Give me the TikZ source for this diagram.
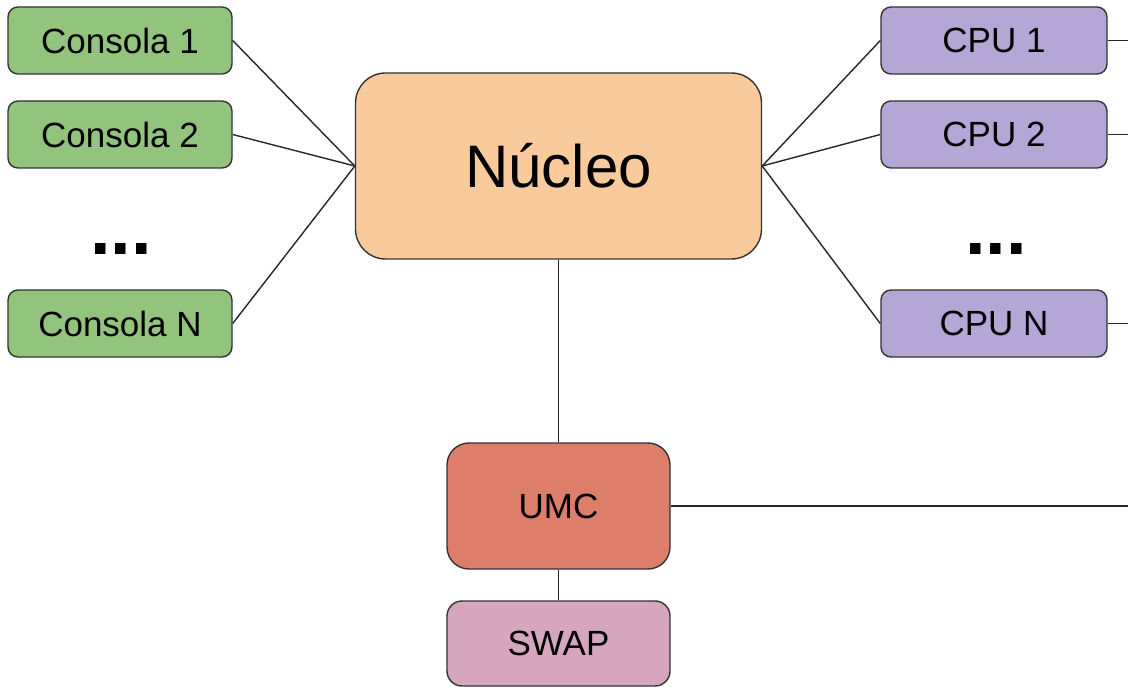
\documentclass[tikz,border=0pt]{standalone}
\usepackage{fontspec}
\setmainfont{Liberation Sans}
\begin{document}
\begin{tikzpicture}[x=1pt,y=-1pt,
  box/.style={draw=black!80, line width=1.4pt, inner sep=0pt, font=\fontsize{35}{40}\selectfont},
  green/.style={box, fill={rgb,255:red,147;green,196;blue,125}, minimum width=224pt, minimum height=67pt, rounded corners=10pt},
  cpu/.style={box, fill={rgb,255:red,180;green,167;blue,214}, minimum width=226pt, minimum height=67pt, rounded corners=10pt},
  link/.style={draw=black!85, line width=1.4pt},
  dots/.style={font=\bfseries\fontsize{74}{80}\selectfont, inner sep=0pt}]
\useasboundingbox (0,0) rectangle (1128,687);
\node[green] (c1) at (120,40.5) {Consola 1};
\node[green] (c2) at (120,134.5) {Consola 2};
\node[green] (cN) at (120,323.5) {Consola N};
\node[dots] (ld) at (121,249) {...};
\node[box, fill={rgb,255:red,249;green,203;blue,156}, minimum width=406pt, minimum height=186pt, rounded corners=30pt, font=\fontsize{60}{70}\selectfont] (nuc) at (558.5,166) {Núcleo};
\node[cpu] (p1) at (994,40.5) {CPU 1};
\node[cpu] (p2) at (994,134.5) {CPU 2};
\node[cpu] (pN) at (994,323.5) {CPU N};
\node[dots] (rd) at (996,249) {...};
\node[box, fill={rgb,255:red,221;green,126;blue,107}, minimum width=223pt, minimum height=126pt, rounded corners=22pt] (umc) at (558.5,506) {UMC};
\node[box, fill={rgb,255:red,213;green,166;blue,189}, minimum width=223pt, minimum height=85pt, rounded corners=15pt] (swap) at (558.5,643.5) {SWAP};
\coordinate (e1) at (1128,40.5);
\coordinate (e2) at (1128,134.5);
\coordinate (eN) at (1128,323.5);
\coordinate (eU) at (1128,506);
\draw[link] (c1.east) -- (nuc.west);
\draw[link] (c2.east) -- (nuc.west);
\draw[link] (cN.east) -- (nuc.west);
\draw[link] (p1.west) -- (nuc.east);
\draw[link] (p2.west) -- (nuc.east);
\draw[link] (pN.west) -- (nuc.east);
\draw[link] (p1.east) -- (e1);
\draw[link] (p2.east) -- (e2);
\draw[link] (pN.east) -- (eN);
\draw[link] (nuc.south) -- (umc.north);
\draw[link] (umc.south) -- (swap.north);
\draw[link] (umc.east) -- (eU);
\end{tikzpicture}
\end{document}
